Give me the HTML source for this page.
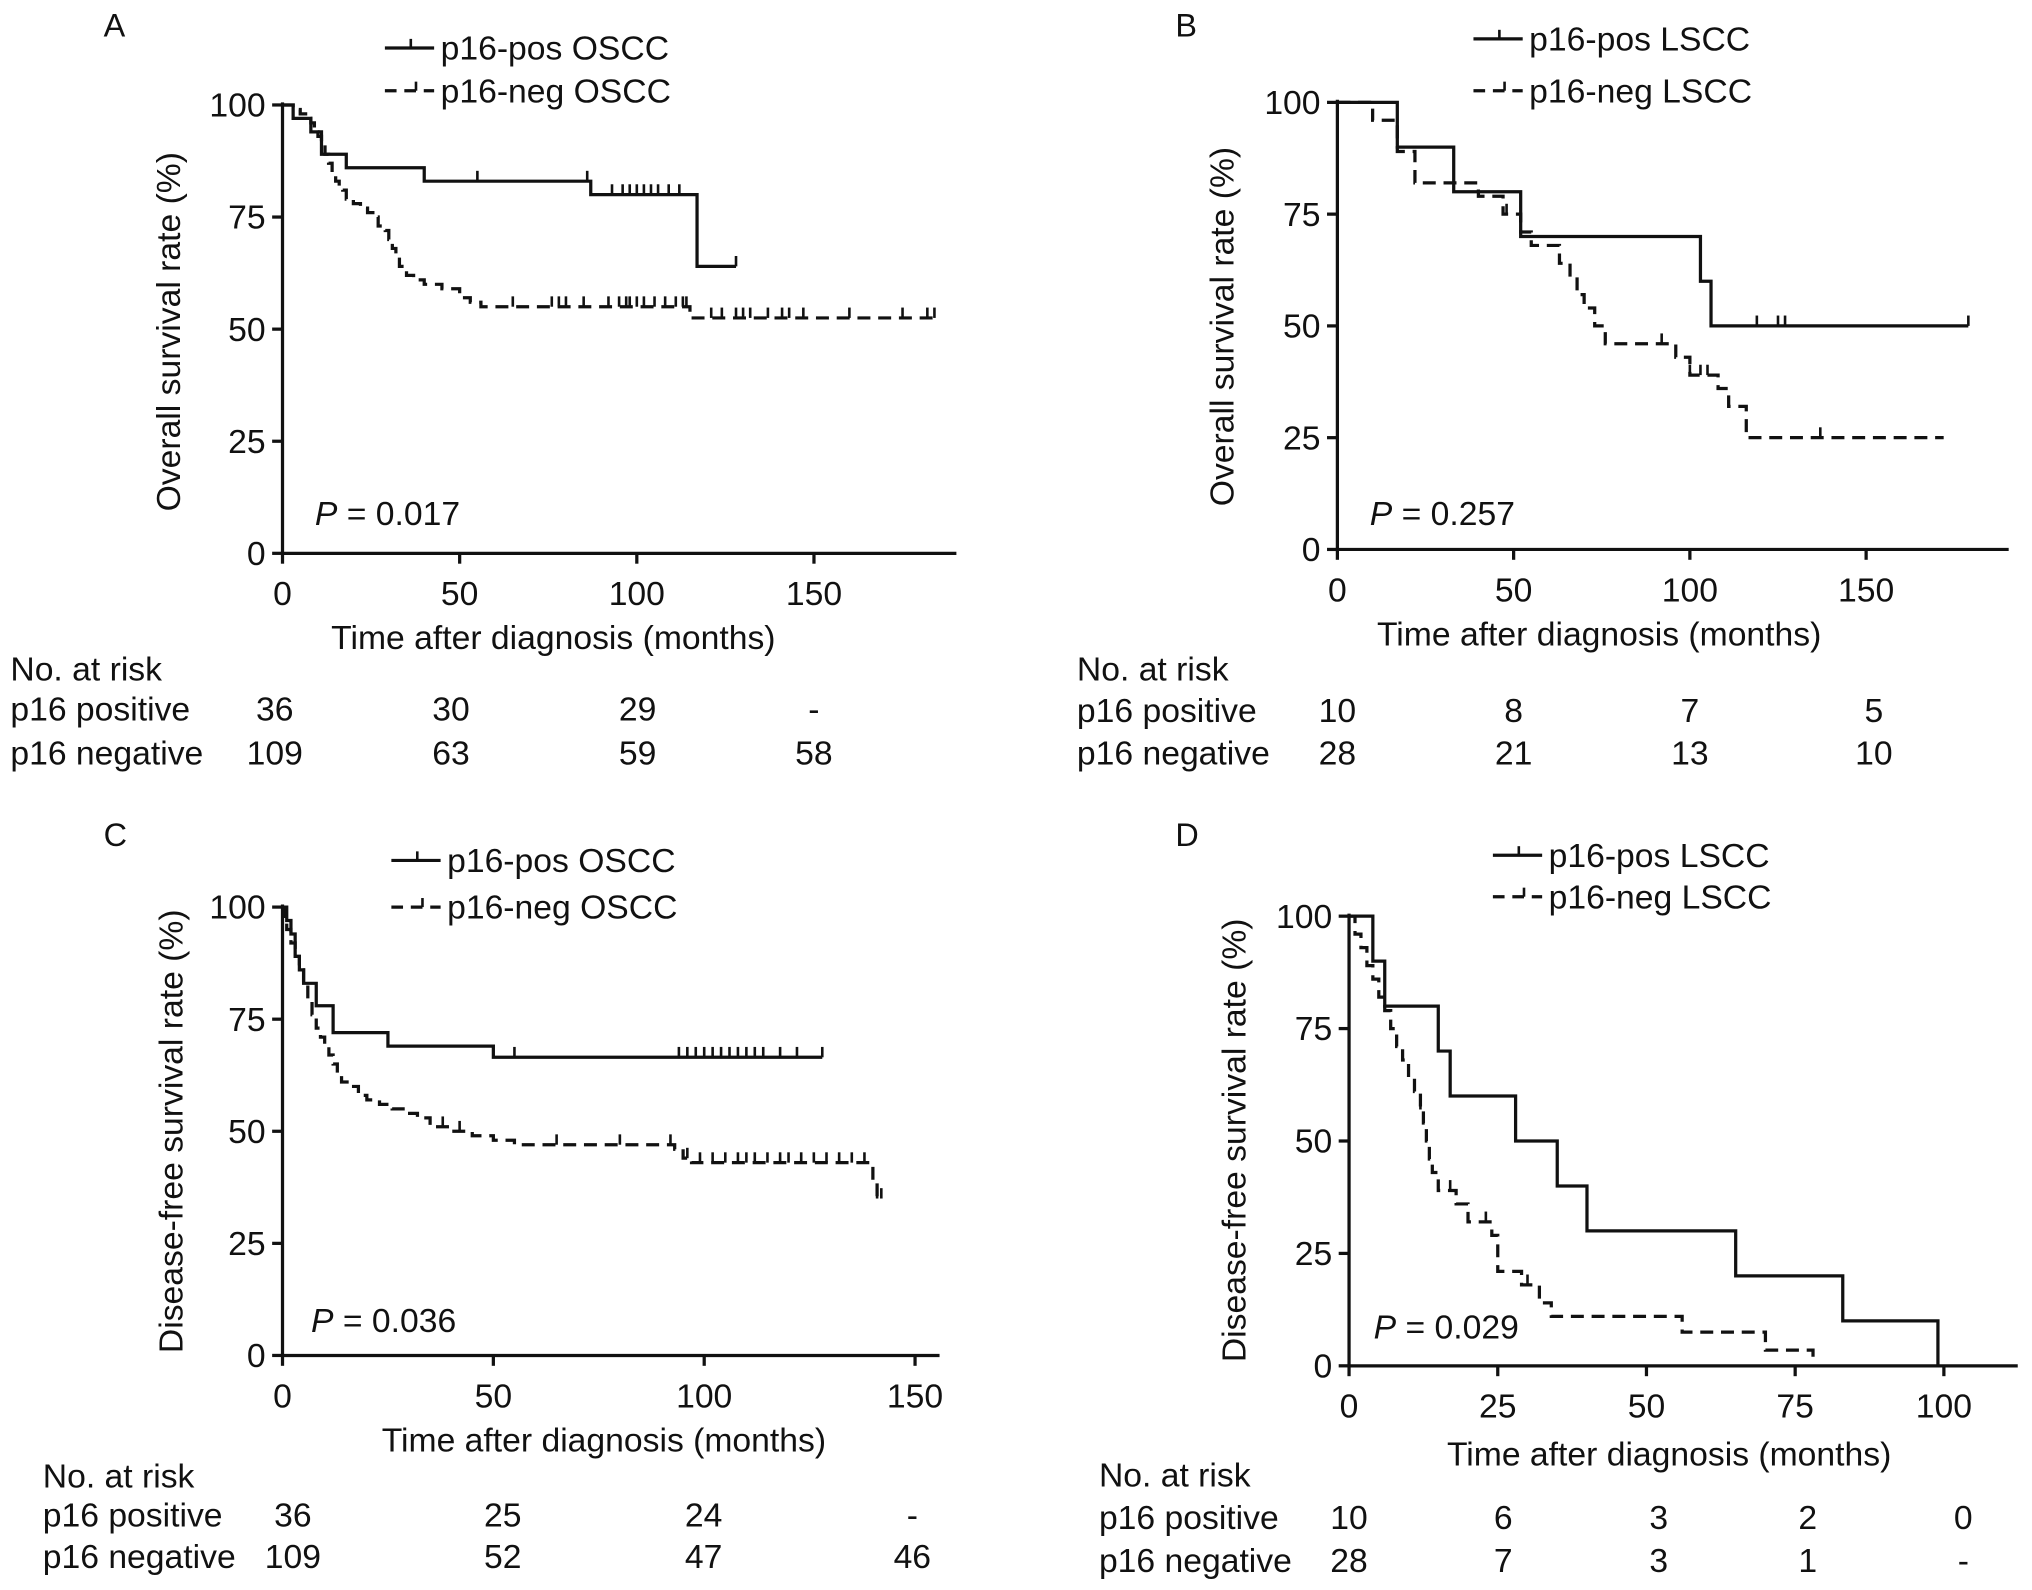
<!DOCTYPE html>
<html><head><meta charset="utf-8"><style>
html,body{margin:0;padding:0;background:#fff}
svg{display:block}
text{font-family:"Liberation Sans",sans-serif;fill:#111}
</style></head><body>
<svg id="fig" width="2032" height="1590" viewBox="0 0 1568 1227" preserveAspectRatio="none" xmlns="http://www.w3.org/2000/svg"></svg>
<script>
// ---- Data ----
const aPosSteps=[[0,100],[3,97],[8,94],[11,89],[18,86],[40,83],[87,80],[117,64]];
const aPosEnd=128;
const aPosCens=[55,86,93,96,98,100,102,104,106,109,112,128];
const aNegSteps=[[0,100],[3,99],[5,98],[7,97],[8,96],[9,94],[10,93],[11,91],[12,89],[13,87],[14,85],[15,83],[16,82],[17,81],[18,79],[20,78],[22,77],[24,76],[26,75],[27,73],[29,72],[30,70],[31,68],[32,66],[33,64],[35,62],[37,61],[40,60],[45,59],[50,57],[53,56],[56,55],[115,52.5]];
const aNegEnd=185;
const aNegCens=[65,76,78,80,85,92,95,97,98,100,102,105,108,111,113,114,121,124,128,130,132,137,141,143,147,160,175,182,184];

const bPosSteps=[[0,100],[17,90],[33,80],[52,70],[103,60],[106,50]];
const bPosEnd=179;
const bPosCens=[119,125,127,179];
const bNegSteps=[[0,100],[10,96],[17,89],[22,82],[40,79],[47,75],[52,71],[55,68],[63,64],[66,61],[68,57],[70,54],[73,50],[76,46],[96,43],[100,39],[108,36],[111,32],[116,25]];
const bNegEnd=172;
const bNegCens=[48,92,100,103,105,137];

const cPosSteps=[[0,100],[1,97],[2,94],[3,89],[4,86],[5,83],[8,78],[12,72],[25,69],[50,66.5]];
const cPosEnd=128;
const cPosCens=[55,94,96,98,100,102,104,106,108,110,112,114,118,122,128];
const cNegSteps=[[0,100],[0.5,97],[1,95],[2,92],[3,89],[4,86],[5,83],[6,79],[7,76],[8,73],[9,71],[10,69],[11,67],[12,65],[13,63],[14,61],[16,60],[18,58],[20,57],[23,56],[26,55],[29,54],[32,53],[35,51],[40,50],[45,49],[50,48],[55,47],[93,46],[95,44],[97,43],[140,39],[141,35]];
const cNegEnd=142;
const cNegCens=[38,42,65,80,92,96,99,102,105,108,110,112,115,118,120,123,126,129,132,135,138,141,142];

const dPosSteps=[[0,100],[4,90],[6,80],[15,70],[17,60],[28,50],[35,40],[40,30],[65,20],[83,10],[99,0]];
const dPosEnd=99;
const dPosCens=[];
const dNegSteps=[[0,100],[1,96],[2,93],[3,89],[4,86],[5,82],[6,79],[7,75],[8,71],[9,68],[10,64],[11,61],[12,57],[12.5,54],[13,50],[13.5,46],[14,43],[15,39],[18,36],[20,32],[24,29],[25,21],[29,18],[32,14],[34,11],[56,7.5],[70,3.5],[78,0]];
const dNegEnd=78;
const dNegCens=[12,17,23,30];

const yTicks=[0,25,50,75,100];
const xTicksA=[0,50,100,150];
const xTicksD=[0,25,50,75,100];
const riskA=[["36","30","29","-"],["109","63","59","58"]];
const riskB=[["10","8","7","5"],["28","21","13","10"]];
const riskC=[["36","25","24","-"],["109","52","47","46"]];
const riskD=[["10","6","3","2","0"],["28","7","3","1","-"]];

const FS=26;
const svg=document.getElementById('fig');
const NS="http://www.w3.org/2000/svg";
function mk(tag,attrs,parent){const e=document.createElementNS(NS,tag);for(const k in attrs)e.setAttribute(k,attrs[k]);(parent||svg).appendChild(e);return e;}
function txt(s,x,y,size,anchor,parent,name){const t=mk('text',{x:x,y:y,'font-size':size,'text-anchor':anchor||'start'},parent);t.textContent=s;


return t;}

function panel(p){
  const g=mk('g',{});
  
  
  const sx=v=>p.x0+v*p.xs; const sy=v=>p.y0-(v/100)*(p.y0-p.y100);
  const ya=mk('line',{x1:p.x0,y1:p.y100-2,x2:p.x0,y2:p.y0+1,stroke:'#111','stroke-width':2.5},g);
  
  const xa=mk('line',{x1:p.x0-1,y1:p.y0,x2:p.xEnd,y2:p.y0,stroke:'#111','stroke-width':2.5},g);
  
  yTicks.forEach(v=>{const y=sy(v);mk('line',{x1:p.x0-8,y1:y,x2:p.x0,y2:y,stroke:'#111','stroke-width':2.5},g);
    txt(String(v),p.x0-13,y+9,FS,'end',g,'y-tick-label');});
  p.xt.forEach(v=>{const x=sx(v);mk('line',{x1:x,y1:p.y0,x2:x,y2:p.y0+8,stroke:'#111','stroke-width':2.5},g);
    txt(String(v),x,p.y0+40,FS,'middle',g,'x-tick-label');});
  txt('Time after diagnosis (months)',p.xtX,p.xtY,FS,'middle',g,'x-axis-title');
  const yt=txt(p.ytitle,0,0,FS,'middle',g,'y-axis-title');yt.setAttribute('transform','translate('+p.ytX+','+p.ytY+') rotate(-90)');
  txt(p.id,p.lx,p.ly,25,'start',g,'panel-letter');
  const pt=mk('text',{x:p.px,y:p.py,'font-size':FS},g);
  
  pt.innerHTML='<tspan font-style="italic">P</tspan> = '+p.pv;
  function curve(steps,end,cens,dash,name){
    let d='M'+sx(steps[0][0])+','+sy(steps[0][1]);
    for(let i=1;i<steps.length;i++){d+=' H'+sx(steps[i][0])+' V'+sy(steps[i][1]);}
    d+=' H'+sx(end);
    const path=mk('path',{d:d,fill:'none',stroke:'#111','stroke-width':2.5,'stroke-dasharray':dash?'10 6':'none'},g);
    
    cens.forEach(t=>{let s=steps[0][1];for(const st of steps){if(st[0]<=t)s=st[1];}
      const c=mk('line',{x1:sx(t),y1:sy(s),x2:sx(t),y2:sy(s)-8,stroke:'#111','stroke-width':2},g);
      });
  }
  curve(p.pos[0],p.pos[1],p.pos[2],false,'pos-curve');
  curve(p.neg[0],p.neg[1],p.neg[2],true,'neg-curve');
  const l1=mk('g',{},g);
  mk('line',{x1:p.legX,y1:p.legY1,x2:p.legX+38,y2:p.legY1,stroke:'#111','stroke-width':2.5},l1);
  mk('line',{x1:p.legX+20,y1:p.legY1,x2:p.legX+20,y2:p.legY1-7,stroke:'#111','stroke-width':2},l1);
  txt(p.legPos,p.legX+43,p.legY1+9,FS,'start',l1,'legend-label');
  const l2=mk('g',{},g);
  mk('line',{x1:p.legX,y1:p.legY2,x2:p.legX+38,y2:p.legY2,stroke:'#111','stroke-width':2.5,'stroke-dasharray':'9 6'},l2);
  mk('line',{x1:p.legX+24,y1:p.legY2,x2:p.legX+24,y2:p.legY2-7,stroke:'#111','stroke-width':2},l2);
  txt(p.legNeg,p.legX+43,p.legY2+9,FS,'start',l2,'legend-label');
  txt('No. at risk',p.rX,p.rY0,FS,'start',g,'risk-table-title');
  txt('p16 positive',p.rX,p.rY1,FS,'start',g,'risk-row-label');
  txt('p16 negative',p.rX,p.rY2,FS,'start',g,'risk-row-label');
  p.risk[0].forEach((v,i)=>txt(v,p.rCols[i],p.rY1,FS,'middle',g,'risk-value'));
  p.risk[1].forEach((v,i)=>txt(v,p.rCols[i],p.rY2,FS,'middle',g,'risk-value'));
}

panel({id:'A',x0:218,y0:427,y100:81,xs:136.7/50,xEnd:738,xt:xTicksA,xtX:427,xtY:501,ytitle:'Overall survival rate (%)',ytX:139,ytY:256,
 lx:80,ly:28,px:243,py:405,pv:'0.017',pos:[aPosSteps,aPosEnd,aPosCens],neg:[aNegSteps,aNegEnd,aNegCens],
 legX:297,legY1:37,legY2:70,legPos:'p16-pos OSCC',legNeg:'p16-neg OSCC',rX:8,rY0:525,rY1:556,rY2:590,rCols:[212,348,492,628],risk:riskA});
panel({id:'B',x0:1032,y0:424,y100:79,xs:136/50,xEnd:1550,xt:xTicksA,xtX:1234,xtY:498,ytitle:'Overall survival rate (%)',ytX:952,ytY:252,
 lx:907,ly:28,px:1057,py:405,pv:'0.257',pos:[bPosSteps,bPosEnd,bPosCens],neg:[bNegSteps,bNegEnd,bNegCens],
 legX:1137,legY1:30,legY2:70,legPos:'p16-pos LSCC',legNeg:'p16-neg LSCC',rX:831,rY0:525,rY1:557,rY2:590,rCols:[1032,1168,1304,1446],risk:riskB});
panel({id:'C',x0:218,y0:1046,y100:700,xs:162.7/50,xEnd:725,xt:xTicksA,xtX:466,xtY:1120,ytitle:'Disease-free survival rate (%)',ytX:141,ytY:873,
 lx:80,ly:653,px:240,py:1028,pv:'0.036',pos:[cPosSteps,cPosEnd,cPosCens],neg:[cNegSteps,cNegEnd,cNegCens],
 legX:302,legY1:664,legY2:700,legPos:'p16-pos OSCC',legNeg:'p16-neg OSCC',rX:33,rY0:1148,rY1:1178,rY2:1210,rCols:[226,388,543,704],risk:riskC});
panel({id:'D',x0:1041,y0:1054,y100:707,xs:114.75/25,xEnd:1557,xt:xTicksD,xtX:1288,xtY:1131,ytitle:'Disease-free survival rate (%)',ytX:961,ytY:880,
 lx:907,ly:653,px:1060,py:1033,pv:'0.029',pos:[dPosSteps,dPosEnd,dPosCens],neg:[dNegSteps,dNegEnd,dNegCens],
 legX:1152,legY1:660,legY2:692,legPos:'p16-pos LSCC',legNeg:'p16-neg LSCC',rX:848,rY0:1147,rY1:1180,rY2:1213,rCols:[1041,1160,1280,1395,1515],risk:riskD});
</script>
</body></html>
